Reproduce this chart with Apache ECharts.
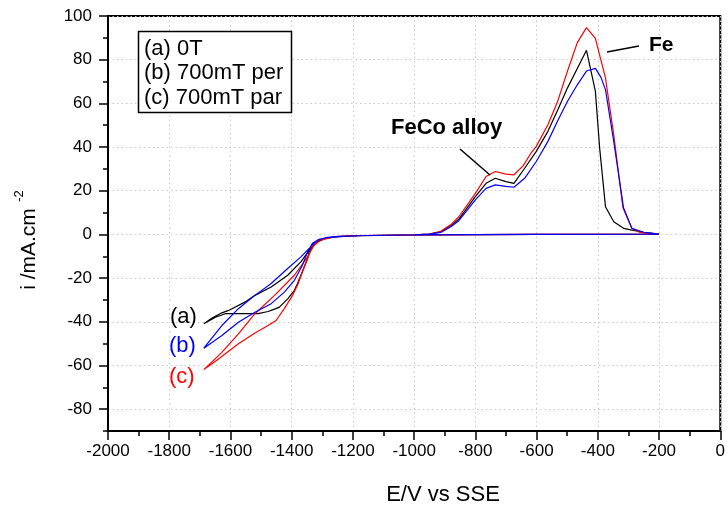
<!DOCTYPE html>
<html>
<head>
<meta charset="utf-8">
<script src="https://cdn.jsdelivr.net/npm/echarts@6/dist/echarts.min.js"></script>
<style>
html,body{margin:0;padding:0;background:#fff;}
#c{width:728px;height:507px;}
</style>
</head>
<body>
<div id="c"></div>
<script>
// ---- data (E in mV vs SSE, i in mA/cm2) ----
const seriesNames = ['(a) 0T', '(b) 700mT per', '(c) 700mT par'];
const curveTags = ['(a)', '(b)', '(c)'];
const xTicks = [-2000, -1800, -1600, -1400, -1200, -1000, -800, -600, -400, -200, 0];
const yTicks = [-80, -60, -40, -20, 0, 20, 40, 60, 80, 100];

const curveA = [
  [-200,0.1],[-600,0],[-1000,-0.2],[-1200,-0.6],[-1260,-1.1],[-1300,-2.2],
  [-1311,-2.6],[-1332,-5.7],[-1343,-8],[-1348,-11],[-1370,-18.7],[-1381,-22.5],[-1391,-25.6],[-1413,-29.5],
  [-1440,-33.3],[-1456,-34.2],[-1477,-35.3],[-1510,-36.3],[-1542,-36.3],[-1574,-36.3],[-1617,-36.3],
  [-1649,-37.9],[-1687,-40.9],
  [-1660,-38.3],[-1628,-35.9],[-1606,-34.8],[-1553,-31],[-1520,-27.9],[-1467,-24.1],[-1413,-18.7],
  [-1370,-12.6],[-1338,-6.4],[-1316,-3.4],[-1290,-1.8],[-1250,-1.0],[-1150,-0.5],[-1000,-0.2],
  [-950,0.2],[-913,1.2],[-880,4],[-854,7],[-800,17.3],[-765,23.4],[-735,25.7],[-700,24.2],[-674,23.4],
  [-639,30.3],[-601,38],[-563,47.2],[-531,57],[-499,67.1],[-467,76],[-437,84.3],[-408,65.6],
  [-394,39.5],[-375,12.7],[-348,5.8],[-316,2.8],[-289,2.0],[-250,1.0],[-200,0.1]
];
const curveB = [
  [-200,0.1],[-600,0],[-1000,-0.2],[-1200,-0.6],[-1284,-1.5],[-1311,-2.2],
  [-1332,-4.1],[-1348,-8],[-1365,-14.1],[-1391,-21],[-1424,-26.4],[-1467,-31.7],[-1520,-35.6],
  [-1574,-40.2],[-1628,-46.3],[-1687,-52.1],
  [-1628,-41.7],[-1574,-34],[-1520,-27.9],[-1467,-22.5],[-1413,-15.6],[-1370,-10.3],[-1338,-5.7],
  [-1316,-2.6],[-1284,-1.3],[-1250,-0.9],[-1150,-0.5],[-1000,-0.2],
  [-950,0.1],[-913,0.9],[-880,3.5],[-854,6.3],[-800,15.8],[-765,21.1],[-735,22.7],[-700,22],[-674,21.6],
  [-639,25.7],[-601,33.4],[-563,42.6],[-531,52],[-499,61],[-467,68.5],[-437,74.8],[-408,76],
  [-390,72],[-375,66.3],[-348,42.6],[-316,12.2],[-289,2.8],[-250,1.0],[-200,0.1]
];
const curveC = [
  [-200,0.1],[-600,0],[-1000,-0.2],[-1219,-0.6],[-1262,-1.1],[-1306,-2.6],
  [-1332,-5.7],[-1348,-11],[-1365,-17.2],[-1381,-23.3],[-1397,-27.9],[-1424,-34],[-1451,-39.4],
  [-1477,-41.7],[-1520,-45.1],[-1574,-50.1],[-1639,-57],[-1687,-61.9],
  [-1628,-54],[-1574,-45.5],[-1520,-36.3],[-1456,-27.9],[-1391,-18.7],[-1348,-10.3],[-1327,-4.9],
  [-1306,-2.4],[-1262,-1.1],[-1219,-0.6],[-1100,-0.4],[-1000,-0.2],
  [-950,0.2],[-913,1.4],[-880,4.5],[-854,8.1],[-800,18.8],[-765,26.5],[-735,28.8],[-700,27.6],[-674,27.3],
  [-644,31.4],[-617,37.5],[-601,40.3],[-563,50.2],[-531,61],[-499,74.8],[-467,87.8],[-437,94.7],
  [-408,89.8],[-375,71.7],[-348,45.6],[-318,12.2],[-289,2.8],[-262,0.9],[-200,0.1]
];

const colors = ['#000000', '#0000ff', '#ff0000'];
const FONT = '"Liberation Sans", Arial, Helvetica, sans-serif';

const chart = echarts.init(document.getElementById('c'), null, {renderer: 'canvas'});
const tickStyle = {color: '#000', width: 1.5};
const plainNum = function (v) { return String(v); };
const gridBox = {left: 108, right: 1, top: 16, bottom: 76};

chart.setOption({
  animation: false,
  backgroundColor: '#fff',
  grid: [
    Object.assign({show: true, borderColor: '#000', borderWidth: 2, backgroundColor: 'transparent'}, gridBox),
    Object.assign({show: false}, gridBox)
  ],
  xAxis: [{
    type: 'value', min: -2000, max: 0, interval: 200, gridIndex: 0,
    axisLine: {show: true, onZero: false, lineStyle: {color: '#000', width: 2}},
    axisTick: {show: true, inside: false, length: 9, lineStyle: tickStyle},
    minorTick: {show: true, splitNumber: 2, length: 5, lineStyle: tickStyle},
    axisLabel: {color: '#000', fontSize: 17, fontFamily: FONT, margin: 12, customValues: xTicks, formatter: plainNum},
    splitLine: {show: true, lineStyle: {color: '#c8c8c8', type: [1.5, 3], width: 1}}
  }, {
    type: 'value', min: -2000, max: 0, interval: 200, gridIndex: 1, show: false
  }],
  yAxis: [{
    type: 'value', min: -90, max: 100, splitNumber: 10, position: 'left', gridIndex: 0,
    axisLine: {show: true, onZero: false, lineStyle: {color: '#000', width: 2}},
    axisTick: {show: true, length: 9, lineStyle: tickStyle, customValues: yTicks},
    axisLabel: {color: '#000', fontSize: 17, fontFamily: FONT, margin: 16, customValues: yTicks, formatter: plainNum},
    splitLine: {show: true, lineStyle: {color: '#c8c8c8', type: [1.5, 3], width: 1}}
  }, {
    // minor ticks (every 10) on an overlaid grid's left axis
    type: 'value', min: -90, max: 100, interval: 10, position: 'left', gridIndex: 1,
    axisLine: {show: false, onZero: false},
    axisTick: {show: true, inside: false, length: 5, lineStyle: tickStyle},
    axisLabel: {show: false},
    splitLine: {show: false}
  }],
  series: [
    {name: seriesNames[0], type: 'line', data: curveA, showSymbol: false, symbol: 'none',
     lineStyle: {color: colors[0], width: 1.2}, z: 3},
    {name: seriesNames[2], type: 'line', data: curveC, showSymbol: false, symbol: 'none',
     lineStyle: {color: colors[2], width: 1.2}, z: 4},
    {name: seriesNames[1], type: 'line', data: curveB, showSymbol: false, symbol: 'none',
     lineStyle: {color: colors[1], width: 1.2}, z: 5}
  ],
  graphic: [
    {type: 'rect', shape: {x: 138.5, y: 31.5, width: 153, height: 81},
     style: {fill: '#fff', stroke: '#000', lineWidth: 1.5}, z: 10},
    {type: 'text', x: 144, y: 48.5, style: {text: seriesNames[0], font: '22px ' + FONT, fill: '#000', verticalAlign: 'middle'}, z: 11},
    {type: 'text', x: 144, y: 73, style: {text: seriesNames[1], font: '22px ' + FONT, fill: '#000', verticalAlign: 'middle'}, z: 11},
    {type: 'text', x: 144, y: 97.5, style: {text: seriesNames[2], font: '22px ' + FONT, fill: '#000', verticalAlign: 'middle'}, z: 11},
    {type: 'text', x: 170, y: 317, style: {text: curveTags[0], font: '22px ' + FONT, fill: colors[0], verticalAlign: 'middle'}, z: 11},
    {type: 'text', x: 169, y: 346, style: {text: curveTags[1], font: '22px ' + FONT, fill: colors[1], verticalAlign: 'middle'}, z: 11},
    {type: 'text', x: 169, y: 377, style: {text: curveTags[2], font: '22px ' + FONT, fill: colors[2], verticalAlign: 'middle'}, z: 11},
    {type: 'text', x: 391, y: 128, style: {text: 'FeCo alloy', font: 'bold 22px ' + FONT, fill: '#000', verticalAlign: 'middle'}, z: 11},
    {type: 'line', shape: {x1: 460, y1: 149, x2: 490, y2: 175}, style: {stroke: '#000', lineWidth: 1.5}, z: 11},
    {type: 'text', x: 649, y: 45, style: {text: 'Fe', font: 'bold 21px ' + FONT, fill: '#000', verticalAlign: 'middle'}, z: 11},
    {type: 'line', shape: {x1: 607, y1: 52, x2: 639, y2: 46}, style: {stroke: '#000', lineWidth: 1.5}, z: 11},
    {type: 'text', x: 443, y: 495, style: {text: 'E/V vs SSE', font: '22px ' + FONT, fill: '#000', align: 'center', verticalAlign: 'middle'}, z: 11},
    {type: 'text', x: 29, y: 249, rotation: Math.PI / 2, style: {text: 'i /mA.cm', font: '21px ' + FONT, fill: '#000', align: 'center', verticalAlign: 'middle'}, z: 11},
    {type: 'text', x: 19, y: 196, rotation: Math.PI / 2, style: {text: '-2', font: '13px ' + FONT, fill: '#000', align: 'center', verticalAlign: 'middle'}, z: 11}
  ]
});
</script>
</body>
</html>
